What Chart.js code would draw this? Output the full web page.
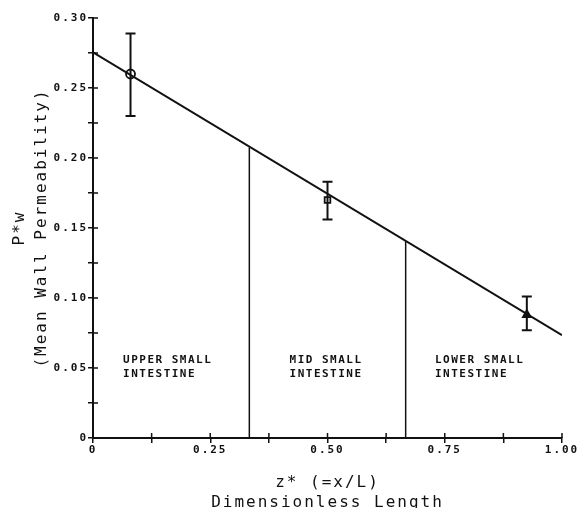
<!DOCTYPE html>
<html>
<head>
<meta charset="utf-8">
<script src="https://cdn.jsdelivr.net/npm/chart.js@4/dist/chart.umd.min.js"></script>
<style>
html,body{margin:0;padding:0;background:#fff;}
canvas{display:block;}
</style>
</head>
<body>
<canvas id="c" width="577" height="508"></canvas>
<script>
// ---- data ----
const zValues   = [0.08, 0.50, 0.925];
const pwMeans   = [0.260, 0.170, 0.088];
const pwUpper   = [0.289, 0.183, 0.101];
const pwLower   = [0.230, 0.156, 0.077];
const fitZ      = [0, 1.0];
const fitPw     = [0.2755, 0.0735];
const boundaryZ = [1/3, 2/3];
const boundaryTop = [0.2075, 0.1405];
const regionZ   = [0.064, 0.419, 0.729];
const regionNames = [["UPPER SMALL","INTESTINE"],["MID SMALL","INTESTINE"],["LOWER SMALL","INTESTINE"]];
const xTickLabels = {0:"0", 250:"0.25", 500:"0.50", 750:"0.75", 1000:"1.00"};
const yTickLabels = {0:"0", 50:"0.05", 100:"0.10", 150:"0.15", 200:"0.20", 250:"0.25", 300:"0.30"};

const INK = '#111';

const spacingPlugin = {
  id: 'spacing',
  beforeUpdate(chart){ chart.ctx.letterSpacing = '2px'; },
  beforeDraw(chart){ chart.ctx.letterSpacing = '2px'; }
};

const crossTicks = {
  id: 'crossTicks',
  afterDraw(chart){
    const ctx = chart.ctx, xs = chart.scales.x, ys = chart.scales.y;
    ctx.save();
    ctx.strokeStyle = INK; ctx.lineWidth = 1.5;
    ctx.beginPath();
    xs.ticks.forEach((t,i)=>{
      const px = xs.getPixelForTick(i);
      ctx.moveTo(px, xs.top); ctx.lineTo(px, xs.top - 5);
    });
    ys.ticks.forEach((t,i)=>{
      const py = ys.getPixelForTick(i);
      ctx.moveTo(ys.right, py); ctx.lineTo(ys.right + 5, py);
    });
    ctx.stroke();
    ctx.restore();
  }
};

const errorBars = {
  id: 'errorBars',
  afterDatasetsDraw(chart){
    const ctx = chart.ctx, xs = chart.scales.x, ys = chart.scales.y;
    ctx.save();
    ctx.strokeStyle = INK; ctx.lineWidth = 2;
    zValues.forEach((z,i)=>{
      const px = xs.getPixelForValue(z);
      const pt = ys.getPixelForValue(pwUpper[i]);
      const pb = ys.getPixelForValue(pwLower[i]);
      ctx.beginPath();
      ctx.moveTo(px, pt); ctx.lineTo(px, pb);
      ctx.moveTo(px-5, pt); ctx.lineTo(px+5, pt);
      ctx.moveTo(px-5, pb); ctx.lineTo(px+5, pb);
      ctx.stroke();
    });
    ctx.restore();
  }
};

const regionLabels = {
  id: 'regionLabels',
  afterDatasetsDraw(chart){
    const ctx = chart.ctx, xs = chart.scales.x, ys = chart.scales.y;
    ctx.save();
    ctx.letterSpacing = '1.5px';
    ctx.fillStyle = INK;
    ctx.font = 'bold 11px "DejaVu Sans Mono"';
    ctx.textAlign = 'left';
    ctx.textBaseline = 'middle';
    regionZ.forEach((z,i)=>{
      const px = xs.getPixelForValue(z);
      const py = ys.getPixelForValue(0.0557);
      regionNames[i].forEach((s,j)=>ctx.fillText(s, px, py + j*14));
    });
    ctx.restore();
  }
};

new Chart(document.getElementById('c'), {
  type: 'scatter',
  data: {
    datasets: [
      {
        type: 'line',
        data: fitZ.map((z,i)=>({x:z, y:fitPw[i]})),
        borderColor: INK, borderWidth: 2, pointRadius: 0, fill: false
      },
      {
        type: 'line',
        data: [{x:boundaryZ[0], y:0},{x:boundaryZ[0], y:boundaryTop[0]}],
        borderColor: INK, borderWidth: 1.5, pointRadius: 0, fill: false
      },
      {
        type: 'line',
        data: [{x:boundaryZ[1], y:0},{x:boundaryZ[1], y:boundaryTop[1]}],
        borderColor: INK, borderWidth: 1.5, pointRadius: 0, fill: false
      },
      {
        data: zValues.map((z,i)=>({x:z, y:pwMeans[i]})),
        pointStyle: ['circle','rect','triangle'],
        pointRadius: [4.5, 4, 4.5],
        pointBackgroundColor: ['#fff','#fff',INK],
        pointBorderColor: INK,
        pointBorderWidth: 1.8
      }
    ]
  },
  options: {
    responsive: false,
    animation: false,
    events: [],
    layout: { padding: { top: 18, right: 15, left: 0, bottom: 0 } },
    plugins: { legend: { display: false }, tooltip: { enabled: false } },
    scales: {
      x: {
        type: 'linear', min: 0, max: 1.0,
        afterFit(s){ s.height = 70; s.paddingLeft = 0; s.paddingRight = 0; },
        border: { display: true, color: INK, width: 2 },
        grid: { display: true, drawOnChartArea: false, color: INK, lineWidth: 1.5, tickLength: 5 },
        ticks: {
          stepSize: 0.125, autoSkip: false, maxRotation: 0, padding: 1,
          color: INK, font: { family: '"DejaVu Sans Mono"', weight: 'bold', size: 11 },
          callback(v){ const k = Math.round(v*1000); return xTickLabels[k] !== undefined ? xTickLabels[k] : ''; }
        },
        title: {
          display: true, text: ['z* (=x/L)', 'Dimensionless Length'],
          color: INK, font: { family: '"DejaVu Sans Mono"', size: 16, lineHeight: 1.25 },
          padding: { top: 16, bottom: -5 }
        }
      },
      y: {
        type: 'linear', min: 0, max: 0.30,
        afterFit(s){ s.width = 93; s.paddingTop = 0; s.paddingBottom = 0; },
        border: { display: true, color: INK, width: 2 },
        grid: { display: true, drawOnChartArea: false, color: INK, lineWidth: 1.5, tickLength: 5 },
        ticks: {
          stepSize: 0.025, autoSkip: false, padding: 0,
          color: INK, font: { family: '"DejaVu Sans Mono"', weight: 'bold', size: 11 },
          callback(v){ const k = Math.round(v*1000); return yTickLabels[k] !== undefined ? yTickLabels[k] : ''; }
        },
        title: {
          display: true, text: ['P*w', '(Mean Wall Permeability)'],
          color: INK, font: { family: '"DejaVu Sans Mono"', size: 16, lineHeight: 1.35 },
          padding: { top: 9, bottom: 0 }
        }
      }
    }
  },
  plugins: [spacingPlugin, crossTicks, errorBars, regionLabels]
});
</script>
</body>
</html>
